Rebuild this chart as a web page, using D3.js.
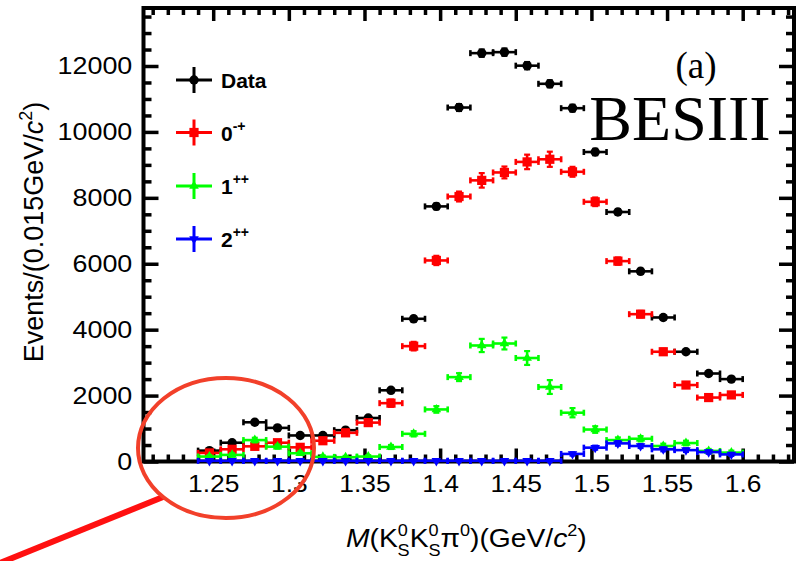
<!DOCTYPE html>
<html>
<head>
<meta charset="utf-8">
<script src="https://cdn.jsdelivr.net/npm/d3@7/dist/d3.min.js"></script>
<style>
  body { margin: 0; background: #fff; }
  svg { display: block; }
</style>
</head>
<body>
<svg id="chart" width="798" height="561" font-family="Liberation Sans, Arial, sans-serif"></svg>
<script>
// bin centres, 0.015 GeV wide
var massBins = [1.2475, 1.2625, 1.2775, 1.2925, 1.3075, 1.3225, 1.3375, 1.3525,
                1.3675, 1.3825, 1.3975, 1.4125, 1.4275, 1.4425, 1.4575, 1.4725,
                1.4875, 1.5025, 1.5175, 1.5325, 1.5475, 1.5625, 1.5775, 1.5925];
var binWidth = 0.015;

var dataY   = [330, 570, 1190, 1020, 790, 790, 950, 1320, 2160, 4330, 7740, 10740,
               12390, 12420, 12010, 11460, 10720, 9390, 7570, 5770, 4370, 3330, 2670, 2500];
var dataErr = [20, 25, 35, 32, 28, 28, 31, 36, 46, 66, 88, 104,
               111, 111, 110, 107, 104, 97, 87, 76, 66, 58, 52, 50];

var redY    = [260, 370, 460, 570, 430, 630, 870, 1180, 1770, 3500, 6100, 8040,
               8530, 8770, 9090, 9170, 8790, 7880, 6080, 4470, 3330, 2320, 1940, 2020];
var redErr  = [50, 60, 70, 80, 70, 80, 90, 100, 110, 130, 140, 150,
               220, 180, 220, 230, 150, 130, 110, 100, 90, 80, 70, 70];

var greenY   = [150, 200, 650, 450, 250, 140, 130, 150, 440, 840, 1580, 2560,
                3520, 3580, 3140, 2260, 1480, 970, 650, 690, 470, 560, 320, 270];
var greenErr = [40, 50, 70, 60, 50, 40, 40, 40, 60, 80, 100, 120,
                200, 180, 210, 210, 140, 100, 80, 80, 70, 70, 60, 60];

var blueY   = [20, 20, 20, 20, 20, 20, 20, 20, 20, 20, 20, 20,
               20, 20, 20, 20, 230, 420, 550, 470, 370, 345, 285, 215];
var blueErr = [20, 20, 20, 20, 20, 20, 20, 20, 20, 20, 20, 20,
               20, 20, 20, 20, 50, 60, 70, 60, 60, 55, 50, 45];

var xTicks = [1.25, 1.3, 1.35, 1.4, 1.45, 1.5, 1.55, 1.6];
var xTickLabels = ["1.25", "1.3", "1.35", "1.4", "1.45", "1.5", "1.55", "1.6"];
var yTicks = [0, 2000, 4000, 6000, 8000, 10000, 12000];

var legendNames = ["Data", "0", "1", "2"];
var legendSups  = ["", "-+", "++", "++"];

var svg = d3.select("#chart");
svg.append("rect").attr("width", 798).attr("height", 561).attr("fill", "#fff");

var frameL = 143.5, frameR = 794, frameT = 8, frameB = 461.5;
var x = d3.scaleLinear().domain([1.25, 1.6]).range([213.2, 742.7]);
var y = d3.scaleLinear().domain([0, 12000]).range([frameB, 66]);

var xMinor = d3.range(121, 164).map(function(d){ return d / 100; })
  .filter(function(d){ return Math.abs(d * 20 - Math.round(d * 20)) > 1e-6; });
var yMinor = d3.range(0, 14000, 500).filter(function(d){ return d % 2000 != 0; });

function styleAxis(g, w) {
  g.select(".domain").remove();
  g.selectAll("line").attr("stroke", "#000").attr("stroke-width", w);
}

// bottom
svg.append("g").attr("transform", "translate(0," + frameB + ")")
  .call(d3.axisBottom(x).tickValues(xMinor).tickSize(-7).tickFormat(""))
  .call(styleAxis, 3.5);
var gxb = svg.append("g").attr("transform", "translate(0," + frameB + ")")
  .call(d3.axisBottom(x).tickValues(xTicks).tickSize(-13).tickPadding(13)
        .tickFormat(function(d, i){ return xTickLabels[i]; }))
  .call(styleAxis, 3.5);
gxb.selectAll("text").attr("font-size", 24).attr("fill", "#000")
  .attr("font-family", null)
  .attr("transform", "scale(1.1,1)");

// top
svg.append("g").attr("transform", "translate(0," + frameT + ")")
  .call(d3.axisTop(x).tickValues(xMinor).tickSize(-7).tickFormat(""))
  .call(styleAxis, 3.5);
svg.append("g").attr("transform", "translate(0," + frameT + ")")
  .call(d3.axisTop(x).tickValues(xTicks).tickSize(-13).tickFormat(""))
  .call(styleAxis, 3.5);

// left
svg.append("g").attr("transform", "translate(" + frameL + ",0)")
  .call(d3.axisLeft(y).tickValues(yMinor).tickSize(-8).tickFormat(""))
  .call(styleAxis, 3.5);
var gyl = svg.append("g").attr("transform", "translate(" + frameL + ",0)")
  .call(d3.axisLeft(y).tickValues(yTicks).tickSize(-15).tickPadding(10)
        .tickFormat(d3.format("d")))
  .call(styleAxis, 3.5);
gyl.selectAll("text").attr("font-size", 24).attr("fill", "#000")
  .attr("font-family", null)
  .attr("transform", "scale(1.12,1)");

// right
svg.append("g").attr("transform", "translate(" + frameR + ",0)")
  .call(d3.axisRight(y).tickValues(yMinor).tickSize(-8).tickFormat(""))
  .call(styleAxis, 3.5);
svg.append("g").attr("transform", "translate(" + frameR + ",0)")
  .call(d3.axisRight(y).tickValues(yTicks).tickSize(-15).tickFormat(""))
  .call(styleAxis, 3.5);

// frame
svg.append("rect")
  .attr("x", frameL).attr("y", frameT)
  .attr("width", frameR - frameL).attr("height", frameB - frameT)
  .attr("fill", "none").attr("stroke", "#000").attr("stroke-width", 4);

// error bar points
function drawSeries(vals, errs, color, shape) {
  var g = svg.append("g").attr("stroke", color).attr("fill", color);
  var pts = massBins.map(function(m, i){ return {m: m, v: vals[i], e: errs[i]}; });
  var cap = 3;
  var sel = g.selectAll("g.pt").data(pts).enter().append("g").attr("class", "pt");
  sel.append("line")
    .attr("x1", function(d){ return x(d.m - binWidth / 2); })
    .attr("x2", function(d){ return x(d.m + binWidth / 2); })
    .attr("y1", function(d){ return y(d.v); })
    .attr("y2", function(d){ return y(d.v); })
    .attr("stroke-width", 2.6);
  [-1, 1].forEach(function(s){
    sel.append("line")
      .attr("x1", function(d){ return x(d.m + s * binWidth / 2); })
      .attr("x2", function(d){ return x(d.m + s * binWidth / 2); })
      .attr("y1", function(d){ return y(d.v) - cap; })
      .attr("y2", function(d){ return y(d.v) + cap; })
      .attr("stroke-width", 2.6);
    sel.append("line")
      .attr("x1", function(d){ return x(d.m) - cap; })
      .attr("x2", function(d){ return x(d.m) + cap; })
      .attr("y1", function(d){ return y(d.v + s * d.e); })
      .attr("y2", function(d){ return y(d.v + s * d.e); })
      .attr("stroke-width", 2.2);
  });
  sel.append("line")
    .attr("x1", function(d){ return x(d.m); })
    .attr("x2", function(d){ return x(d.m); })
    .attr("y1", function(d){ return y(d.v - d.e); })
    .attr("y2", function(d){ return y(d.v + d.e); })
    .attr("stroke-width", 2.6);
  sel.append("path")
    .attr("d", shape.path)
    .attr("stroke", "none")
    .attr("transform", function(d){
      return "translate(" + x(d.m) + "," + y(d.v) + ")" + (shape.rot ? " rotate(180)" : "");
    });
}

var shapes = [
  {path: d3.symbol().type(d3.symbolCircle).size(70)(), rot: false},
  {path: d3.symbol().type(d3.symbolSquare).size(85)(), rot: false},
  {path: d3.symbol().type(d3.symbolTriangle).size(40)(), rot: false},
  {path: d3.symbol().type(d3.symbolTriangle).size(40)(), rot: true}
];
var colors = ["#000000", "#ff0000", "#00ff00", "#0000ff"];

drawSeries(dataY, dataErr, colors[0], shapes[0]);
drawSeries(redY, redErr, colors[1], shapes[1]);
drawSeries(greenY, greenErr, colors[2], shapes[2]);
drawSeries(blueY, blueErr, colors[3], shapes[3]);

// legend
var legY = [80, 132.5, 186, 239];
legendNames.forEach(function(name, i){
  var g = svg.append("g").attr("stroke", colors[i]).attr("fill", colors[i]);
  g.append("line").attr("x1", 176).attr("x2", 212).attr("y1", legY[i]).attr("y2", legY[i])
    .attr("stroke-width", 3);
  g.append("line").attr("x1", 194).attr("x2", 194).attr("y1", legY[i] - 13).attr("y2", legY[i] + 13)
    .attr("stroke-width", 3);
  g.append("path").attr("d", shapes[i].path).attr("stroke", "none")
    .attr("transform", "translate(194," + legY[i] + ")" + (shapes[i].rot ? " rotate(180)" : ""));
  var t = svg.append("text").attr("x", 221).attr("y", legY[i] + 8)
    .attr("font-size", 21).attr("font-weight", "bold").attr("fill", "#000").text(name);
  if (legendSups[i]) {
    t.append("tspan").attr("dy", -10).attr("font-size", 14).text(legendSups[i]);
  }
});

// labels
svg.append("text").attr("x", 696).attr("y", 78).attr("text-anchor", "middle")
  .style("font-family", "'Liberation Serif', 'DejaVu Serif', serif").attr("font-size", 37)
  .text("(a)");
svg.append("text").attr("x", 680).attr("y", 140).attr("text-anchor", "middle")
  .style("font-family", "'Liberation Serif', 'DejaVu Serif', serif").attr("font-size", 64)
  .text("BESIII");

// y title
var yt = svg.append("text")
  .attr("transform", "translate(43,232) rotate(-90)")
  .attr("text-anchor", "middle").attr("font-size", 27).attr("fill", "#000");
yt.append("tspan").text("Events/(0.015GeV/");
yt.append("tspan").attr("font-style", "italic").text("c");
yt.append("tspan").attr("font-size", 18).attr("dy", -11).text("2");
yt.append("tspan").attr("dy", 11).text(")");

// x title
var xt = svg.append("text").attr("x", 346).attr("y", 547)
  .attr("font-size", 25).attr("fill", "#000").attr("transform", "translate(-45,0) scale(1.13,1)");
xt.append("tspan").attr("font-style", "italic").text("M");
xt.append("tspan").text("(K");
xt.append("tspan").attr("font-size", 16).attr("dy", -11).text("0");
xt.append("tspan").attr("font-size", 16).attr("dx", -9).attr("dy", 20).text("S");
xt.append("tspan").attr("dy", -9).text("K");
xt.append("tspan").attr("font-size", 16).attr("dy", -11).text("0");
xt.append("tspan").attr("font-size", 16).attr("dx", -9).attr("dy", 20).text("S");
xt.append("tspan").attr("dy", -9).text("\u03c0");
xt.append("tspan").attr("font-size", 16).attr("dy", -11).text("0");
xt.append("tspan").attr("dy", 11).text(")(GeV/");
xt.append("tspan").attr("font-style", "italic").text("c");
xt.append("tspan").attr("font-size", 16).attr("dy", -11).text("2");
xt.append("tspan").attr("dy", 11).text(")");

// highlight ellipse + pointer
svg.append("line").attr("x1", 163).attr("y1", 497).attr("x2", -10).attr("y2", 567)
  .attr("stroke", "#ff1010").attr("stroke-width", 6);
svg.append("ellipse").attr("cx", 226).attr("cy", 448).attr("rx", 88).attr("ry", 70)
  .attr("fill", "none").attr("stroke", "#f2402a").attr("stroke-width", 4);
</script>
</body>
</html>
